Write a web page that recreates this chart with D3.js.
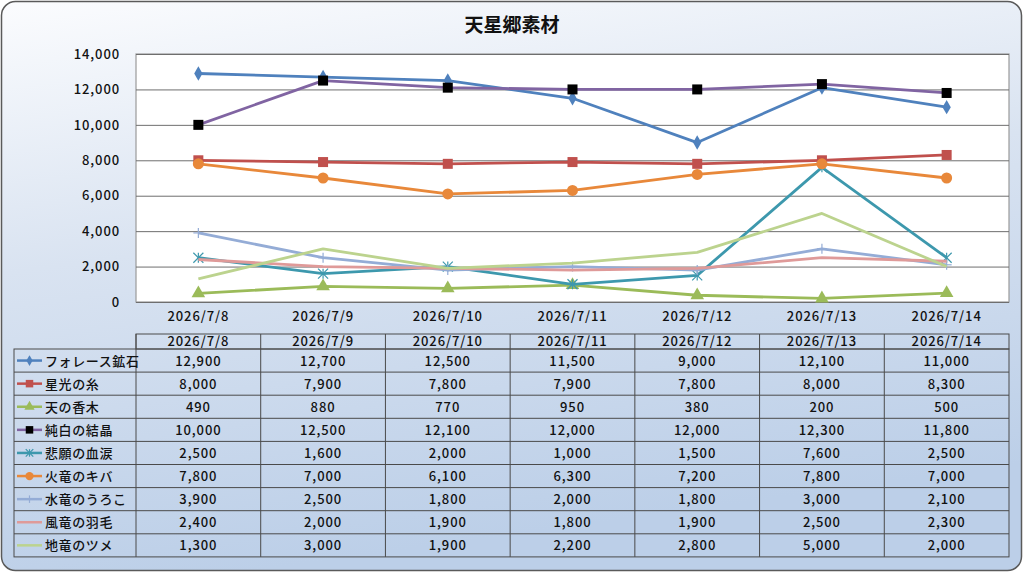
<!DOCTYPE html>
<meta charset="utf-8">
<style>
body{margin:0;background:#fff;}
text{font-family:"Noto Sans CJK JP","Noto Sans",sans-serif;fill:#111;font-weight:500;}
</style>
<svg id="svg"></svg>
<script src="https://d3js.org/d3.v7.min.js"></script>
<script>
var width = 1024, height = 573;

var title = "天星郷素材";
var dates = ["2026/7/8","2026/7/9","2026/7/10","2026/7/11","2026/7/12","2026/7/13","2026/7/14"];
var names = ["フォレース鉱石","星光の糸","天の香木","純白の結晶","悲願の血涙","火竜のキバ","水竜のうろこ","風竜の羽毛","地竜のツメ"];
var colors = ["#4f81bd","#c0504d","#9bbb59","#8064a2","#3d98ad","#e8883a","#94acd6","#df9a99","#bcd38e"];
var markers = ["diamond","square","triangle","blacksquare","star","circle","plus","none","none"];

var forest  = [12900,12700,12500,11500,9000,12100,11000];
var seiko   = [8000,7900,7800,7900,7800,8000,8300];
var kouboku = [490,880,770,950,380,200,500];
var junpaku = [10000,12500,12100,12000,12000,12300,11800];
var higan   = [2500,1600,2000,1000,1500,7600,2500];
var karyu   = [7800,7000,6100,6300,7200,7800,7000];
var suiryu  = [3900,2500,1800,2000,1800,3000,2100];
var fuuryu  = [2400,2000,1900,1800,1900,2500,2300];
var chiryu  = [1300,3000,1900,2200,2800,5000,2000];
var yTicks  = [0,2000,4000,6000,8000,10000,12000,14000];

var series = [forest,seiko,kouboku,junpaku,higan,karyu,suiryu,fuuryu,chiryu].map(function(v,i){
  return {name:names[i], color:colors[i], marker:markers[i], values:v};
});

var svg = d3.select("#svg").attr("width",width).attr("height",height);
var defs = svg.append("defs");
var grad = defs.append("linearGradient").attr("id","bg")
  .attr("x1","0").attr("y1","0").attr("x2","0.25").attr("y2","1");
grad.append("stop").attr("offset","0").attr("stop-color","#fbfcfe");
grad.append("stop").attr("offset","0.45").attr("stop-color","#d9e3f1");
grad.append("stop").attr("offset","1").attr("stop-color","#bccfe8");

svg.append("rect").attr("x",1.5).attr("y",1.5).attr("width",width-4).attr("height",height-4)
  .attr("rx",14).attr("fill","url(#bg)").attr("stroke","#5a5a5a").attr("stroke-width",1.5);

svg.append("text").attr("x",512).attr("y",32).attr("text-anchor","middle")
  .style("font-size","19px").style("font-weight","bold").text(title);

var x = d3.scaleBand().domain(dates).range([136,1009]);
var cx = function(d){ return x(d) + x.bandwidth()/2; };
var y = d3.scaleLinear().domain([0,14000]).range([302,54]);

// plot area
svg.append("rect").attr("x",136).attr("y",54).attr("width",1009-136).attr("height",302-54)
  .attr("fill","#fff").attr("stroke","#9a9a9a").attr("stroke-width",1.2);

var gy = svg.append("g").attr("transform","translate(136,0)")
  .call(d3.axisLeft(y).tickValues(yTicks).tickSize(-(1009-136)).tickPadding(16).tickFormat(d3.format(",")));
gy.select(".domain").remove();
gy.selectAll(".tick line").attr("stroke","#6e6e6e").attr("stroke-width",1);
gy.selectAll(".tick text").style("font-size","13px").style("letter-spacing","0.9px").attr("fill","#111");

var gx = svg.append("g").attr("transform","translate(0,302)")
  .call(d3.axisBottom(x).tickSize(0).tickPadding(10));
gx.select(".domain").remove();
gx.selectAll(".tick text").style("font-size","13px").style("letter-spacing","0.9px").attr("fill","#111");

function drawMarker(g, type, color, px, py, s){
  s = s || 1;
  if (type == "diamond") {
    g.append("path").attr("d", d3.symbol().type(d3.symbolDiamond).size(60*s*s)())
      .attr("transform","translate("+px+","+py+")").attr("fill",color);
  } else if (type == "square") {
    g.append("rect").attr("x",px-5*s).attr("y",py-5*s).attr("width",10*s).attr("height",10*s).attr("fill",color);
  } else if (type == "blacksquare") {
    g.append("rect").attr("x",px-5*s).attr("y",py-5*s).attr("width",10*s).attr("height",10*s).attr("fill","#000");
  } else if (type == "triangle") {
    g.append("path").attr("d", d3.symbol().type(d3.symbolTriangle).size(80*s*s)())
      .attr("transform","translate("+px+","+py+")").attr("fill",color);
  } else if (type == "circle") {
    g.append("circle").attr("cx",px).attr("cy",py).attr("r",5.5*s).attr("fill",color);
  } else if (type == "star") {
    var r = 5*s;
    [[-r,-r,r,r],[-r,r,r,-r],[0,-r,0,r]].forEach(function(l){
      g.append("line").attr("x1",px+l[0]).attr("y1",py+l[1]).attr("x2",px+l[2]).attr("y2",py+l[3])
        .attr("stroke",color).attr("stroke-width",1.2);
    });
  } else if (type == "plus") {
    var r2 = 5*s;
    g.append("line").attr("x1",px-r2).attr("y1",py).attr("x2",px+r2).attr("y2",py).attr("stroke",color).attr("stroke-width",1.2);
    g.append("line").attr("x1",px).attr("y1",py-r2).attr("x2",px).attr("y2",py+r2).attr("stroke",color).attr("stroke-width",1.2);
  }
}

var line = d3.line().x(function(d,i){ return cx(dates[i]); }).y(function(d){ return y(d); });
var plot = svg.append("g");
series.forEach(function(s){
  var g = plot.append("g");
  g.append("path").datum(s.values).attr("d",line).attr("fill","none")
    .attr("stroke",s.color).attr("stroke-width",2.8).attr("stroke-linejoin","round");
  s.values.forEach(function(v,i){ drawMarker(g, s.marker, s.color, cx(dates[i]), y(v)); });
});

// data table
var tTop = 334, hRow = 15, rowH = 23.1, left = 14, right = 1009;
var tb = svg.append("g");
var nRows = series.length;
var bottom = tTop + hRow + rowH*nRows;
var stroke = "#4a4a4a";

tb.append("rect").attr("x",136).attr("y",tTop).attr("width",right-136).attr("height",hRow)
  .attr("fill","none").attr("stroke",stroke);
tb.append("rect").attr("x",left).attr("y",tTop+hRow).attr("width",right-left).attr("height",rowH*nRows)
  .attr("fill","none").attr("stroke",stroke);
dates.forEach(function(d,i){
  if (i>0) tb.append("line").attr("x1",x(d)).attr("x2",x(d)).attr("y1",tTop).attr("y2",bottom).attr("stroke",stroke);
  tb.append("text").attr("x",cx(d)).attr("y",tTop+12).attr("text-anchor","middle")
    .style("font-size","13px").style("letter-spacing","0.9px").text(d);
});
tb.append("line").attr("x1",136).attr("x2",136).attr("y1",tTop).attr("y2",bottom).attr("stroke",stroke);

var fmt = d3.format(",");
series.forEach(function(s,r){
  var ry = tTop + hRow + rowH*r;
  if (r>0) tb.append("line").attr("x1",left).attr("x2",right).attr("y1",ry).attr("y2",ry).attr("stroke",stroke);
  var my = ry + rowH/2;
  tb.append("line").attr("x1",17).attr("x2",42).attr("y1",my).attr("y2",my)
    .attr("stroke",s.color).attr("stroke-width",2.5);
  drawMarker(tb, s.marker, s.color, 29.5, my, 0.75);
  tb.append("text").attr("x",45).attr("y",my+5).style("font-size","13px").style("letter-spacing","0.6px").text(s.name);
  s.values.forEach(function(v,i){
    tb.append("text").attr("x",cx(dates[i])).attr("y",my+5).attr("text-anchor","middle")
      .style("font-size","13px").style("letter-spacing","0.9px").text(fmt(v));
  });
});
</script>
